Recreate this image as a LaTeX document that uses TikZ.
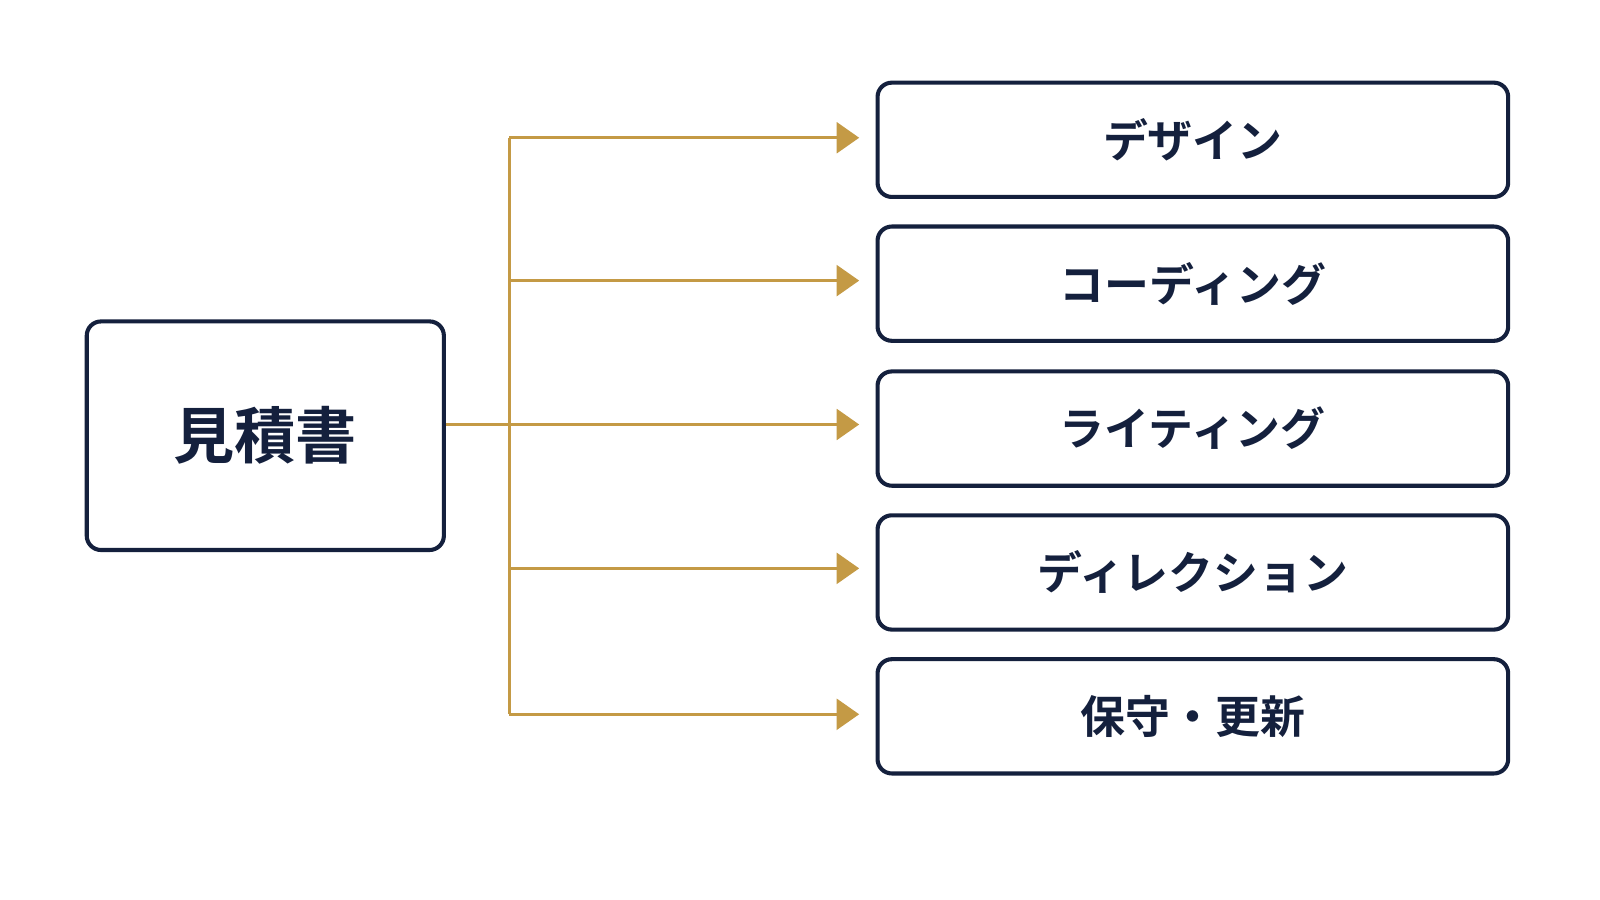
\documentclass[tikz,border=0pt]{standalone}
\usepackage{fontspec}
\newfontfamily\cjk{Noto Sans CJK JP}[BoldFont={* Bold}]
\usetikzlibrary{arrows.meta}
\definecolor{navy}{HTML}{14203D}
\definecolor{gold}{HTML}{C49A45}
\begin{document}
\begin{tikzpicture}[x=0.5pt,y=-0.5pt,
  box/.style={draw=navy,line width=2pt,rounded corners=7pt,fill=white,text=navy},
  arr/.style={draw=gold,line width=1.6pt,-{Triangle[length=11pt,width=15pt]}}]
\useasboundingbox (0,0) rectangle (1568,882);
\fill[white] (0,0) rectangle (1568,882);
\node[box,minimum width=175pt,minimum height=112pt,font=\fontsize{30}{32}\cjk\bfseries] (src) at (260,427) {見積書};
\foreach \n/\y/\t in {a/137/デザイン,b/278/コーディング,c/420/ライティング,d/561/ディレクション,e/702/保守・更新}{
  \node[box,minimum width=309pt,minimum height=56pt,font=\fontsize{22}{24}\cjk\bfseries] (\n) at (1169,\y) {\t};
}
\coordinate (j) at (499,416);
\coordinate (ta) at (499,135);
\coordinate (te) at (499,700);
\draw[gold,line width=1.6pt] (src.east |- j) -- (j);
\draw[gold,line width=1.6pt] (ta) -- (te);
\foreach \n/\y in {a/135,b/275,c/416,d/557,e/700}{
  \coordinate (s\n) at (499,\y);
  \coordinate (t\n) at (842,\y);
  \draw[arr] (s\n) -- (t\n);
}
\end{tikzpicture}
\end{document}
